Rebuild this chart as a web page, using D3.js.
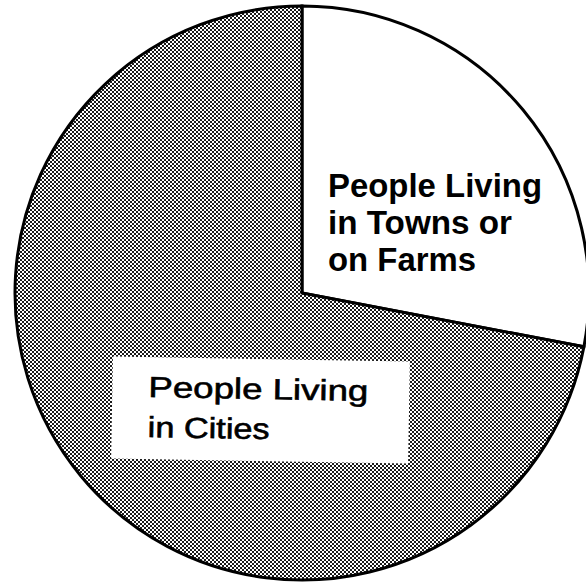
<!DOCTYPE html>
<html>
<head>
<meta charset="utf-8">
<script src="https://cdn.jsdelivr.net/npm/d3@7"></script>
<style>
  html, body { margin: 0; padding: 0; background: #fff; }
  svg { display: block; }
</style>
</head>
<body>
<svg id="chart" width="586" height="582"></svg>
<script>
// Data
const categories = ["People Living in Towns or on Farms", "People Living in Cities"];
const shares = [28, 72];
const townLabelLines = ["People Living", "in Towns or", "on Farms"];
const cityLabelLines = ["People Living", "in Cities"];

const svg = d3.select("#chart");
const cx = 302, cy = 293, R = 287;

// checkerboard dither pattern for the shaded slice
const defs = svg.append("defs");
const pat = defs.append("pattern")
  .attr("id", "dither")
  .attr("patternUnits", "userSpaceOnUse")
  .attr("width", 4).attr("height", 4);
pat.append("rect").attr("width", 4).attr("height", 4).attr("fill", "#fff");
pat.append("rect").attr("x", 0).attr("y", 0).attr("width", 2).attr("height", 2).attr("fill", "#1a1a1a");
pat.append("rect").attr("x", 2).attr("y", 2).attr("width", 2).attr("height", 2).attr("fill", "#1a1a1a");

const fills = ["#ffffff", "url(#dither)"];

const pie = d3.pie().sort(null).value(d => d);
const arc = d3.arc().innerRadius(0).outerRadius(R);

const g = svg.append("g").attr("transform", `translate(${cx},${cy})`);
g.selectAll("path.slice")
  .data(pie(shares))
  .join("path")
  .attr("class", "slice")
  .attr("d", arc)
  .attr("fill", (d, i) => fills[i])
  .attr("stroke", "#000")
  .attr("stroke-width", 3)
  .attr("stroke-linejoin", "miter");

// Town label (bold, inside white slice)
const townWidths = [214, 184, 148];
const tl = svg.append("text")
  .attr("font-family", "Liberation Sans, Arial, sans-serif")
  .attr("font-weight", "bold")
  .attr("font-size", 34)
  .attr("fill", "#000");
tl.selectAll("tspan")
  .data(townLabelLines)
  .join("tspan")
  .attr("x", 328)
  .attr("y", (d, i) => 197 + i * 37)
  .attr("textLength", (d, i) => townWidths[i])
  .attr("lengthAdjust", "spacingAndGlyphs")
  .text(d => d);

// City label on white box
const cityWidths = [220, 122];
const cg = svg.append("g").attr("transform", "rotate(1, 260, 410)");
cg.append("rect")
  .attr("x", 112).attr("y", 359)
  .attr("width", 297).attr("height", 102)
  .attr("fill", "#fff");
const ct = cg.append("text")
  .attr("font-family", "Liberation Sans, Arial, sans-serif")
  .attr("font-size", 29)
  .attr("fill", "#000")
  .attr("stroke", "#000")
  .attr("stroke-width", 0.6);
ct.selectAll("tspan")
  .data(cityLabelLines)
  .join("tspan")
  .attr("x", 148)
  .attr("y", (d, i) => 399 + i * 40)
  .attr("textLength", (d, i) => cityWidths[i])
  .attr("lengthAdjust", "spacingAndGlyphs")
  .text(d => d);
</script>
</body>
</html>
